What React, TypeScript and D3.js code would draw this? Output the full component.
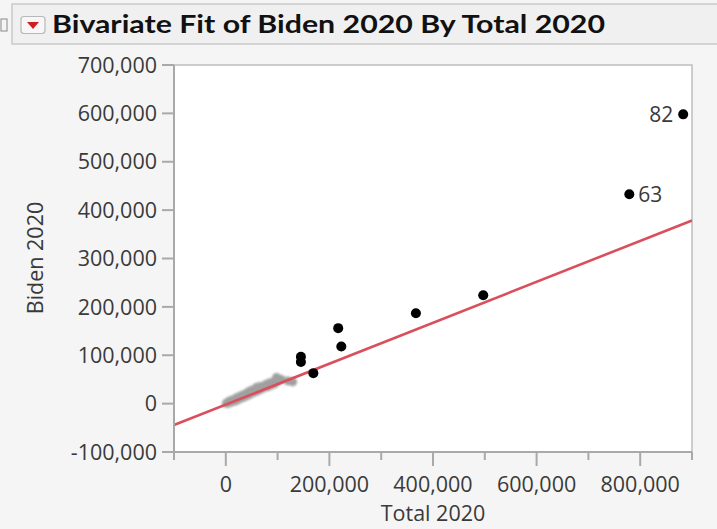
import React from "react";
import * as d3 from "d3";

// Axis ticks
const xTicks = [-100000, 0, 100000, 200000, 300000, 400000, 500000, 600000, 700000, 800000, 900000];
const xLabeled = [0, 200000, 400000, 600000, 800000];
const yTicks = [-100000, 0, 100000, 200000, 300000, 400000, 500000, 600000, 700000];

// Highlighted counties: Total 2020, Biden 2020 and row label
const mainTotals = [883000, 779000, 497000, 367000, 217000, 223000, 145000, 145000, 169000];
const mainBiden = [598000, 433000, 224000, 187000, 156000, 118000, 97000, 86000, 63000];
const mainLabels = ["82", "63", "", "", "", "", "", "", ""];

// Smaller counties (greyed rows)
const greyTotals = [
  1000, 3000, 5000, 6000, 8000, 9000, 11000, 13000, 14000, 16000, 18000, 19000, 21000, 23000,
  25000, 26000, 28000, 30000, 32000, 34000, 36000, 38000, 40000, 42000, 44000, 46000, 48000,
  50000, 52000, 54000, 57000, 59000, 61000, 64000, 66000, 69000, 72000, 75000, 78000, 81000,
  85000, 88000, 91000, 94000, 97000, 100000, 103000, 107000, 98000, 129000, 120000, 60000,
];
const greyBiden = [
  500, 2000, 1000, 4500, 2500, 6000, 3500, 7500, 4500, 6500, 9500, 6000, 12000, 8000,
  13500, 10000, 15000, 12000, 17500, 13000, 19000, 15500, 21500, 17000, 24000, 19000, 26500,
  22000, 28000, 23500, 31000, 25500, 33000, 28000, 35500, 30500, 36000, 33500, 40000, 35000,
  43000, 38500, 44000, 41000, 48000, 46000, 51000, 50000, 54000, 45000, 47000, 34000,
];

// Linear fit
const fitIntercept = -2000;
const fitSlope = 0.423;

const W = 717;
const H = 529;
const plot = { left: 174, right: 692, top: 65, bottom: 452 };
const tickFont = "'Open Sans', 'Noto Sans', sans-serif";
const textColor = "#3a3a3a";
const axisColor = "#a9a9a9";

export default function App() {
  const x = d3.scaleLinear().domain([-100000, 900000]).range([plot.left, plot.right]);
  const y = d3.scaleLinear().domain([-100000, 700000]).range([plot.bottom, plot.top]);
  const fmt = (v: number) => d3.format(",")(v).replace("\u2212", "-");
  const fitLine = d3
    .line<number>()
    .x((v) => x(v))
    .y((v) => y(fitIntercept + fitSlope * v));

  return (
    <svg
      width={W}
      height={H}
      style={{ position: "absolute", left: 0, top: 0, display: "block" }}
    >
      <defs>
        <clipPath id="plotClip">
          <rect x={plot.left} y={plot.top} width={plot.right - plot.left} height={plot.bottom - plot.top} />
        </clipPath>
        <filter id="soft" x="-20%" y="-20%" width="140%" height="140%">
          <feGaussianBlur stdDeviation="0.6" />
        </filter>
        <filter id="softer" x="-20%" y="-20%" width="140%" height="140%">
          <feGaussianBlur stdDeviation="1" />
        </filter>
      </defs>
      <rect x={0} y={0} width={W} height={H} fill="#f5f5f5" />

      {/* Title bar */}
      <rect x={1} y={19} width={6} height={12} fill="none" stroke="#9a9a9a" strokeWidth={1.2} />
      <rect x={12} y={4} width={W} height={40} fill="#f0f0f0" stroke="#c9c9c9" strokeWidth={1.5} />
      <rect x={21} y={16.5} width={24} height={17} rx={3} fill="#f7f7f7" stroke="#b8b8b8" strokeWidth={1.2} />
      <path d="M27,22 L39,22 L33,29 Z" fill="#d11f1f" />
      <text
        x={52}
        y={33}
        fontFamily="Lato, 'Open Sans', sans-serif"
        fontWeight={700}
        fontSize={25}
        fill="#111"
        textLength={553}
        lengthAdjust="spacingAndGlyphs"
      >
        Bivariate Fit of Biden 2020 By Total 2020
      </text>

      {/* Plot area */}
      <rect
        x={plot.left}
        y={plot.top}
        width={plot.right - plot.left}
        height={plot.bottom - plot.top}
        fill="#fff"
        stroke="#bdbdbd"
        strokeWidth={1.5}
      />

      {/* Points and fit */}
      <g clipPath="url(#plotClip)">
        <g filter="url(#softer)">
          {greyTotals.map((t, i) => (
            <circle key={"g" + i} cx={x(t)} cy={y(greyBiden[i])} r={4.5} fill="#a0a0a0" />
          ))}
        </g>
        <g filter="url(#soft)">
          <path d={fitLine([-100000, 900000]) ?? ""} stroke="#d9505c" strokeWidth={2.6} fill="none" />
          {mainTotals.map((t, i) => (
            <circle key={"m" + i} cx={x(t)} cy={y(mainBiden[i])} r={5} fill="#000" />
          ))}
        </g>
      </g>

      {/* Point labels */}
      {mainTotals.map((t, i) =>
        mainLabels[i] ? (
          <text
            key={"l" + i}
            x={i === 0 ? x(t) - 10 : x(t) + 9}
            y={y(mainBiden[i])}
            dy="0.36em"
            textAnchor={i === 0 ? "end" : "start"}
            fontFamily={tickFont}
            fontSize={21}
            fill={textColor}
          >
            {mainLabels[i]}
          </text>
        ) : null
      )}

      {/* Y axis */}
      <line x1={plot.left} x2={plot.left} y1={plot.top} y2={plot.bottom + 8} stroke={axisColor} strokeWidth={2} />
      {yTicks.map((v) => (
        <g key={"y" + v}>
          <line x1={plot.left - 12} x2={plot.left} y1={y(v)} y2={y(v)} stroke={axisColor} strokeWidth={2} />
          <text
            x={157}
            y={y(v)}
            dy="0.36em"
            textAnchor="end"
            fontFamily={tickFont}
            fontSize={21.5}
            fill={textColor}
          >
            {fmt(v)}
          </text>
        </g>
      ))}

      {/* X axis */}
      <line x1={plot.left} x2={plot.right} y1={plot.bottom} y2={plot.bottom} stroke={axisColor} strokeWidth={2} />
      {xTicks.map((v) => {
        const major = xLabeled.includes(v);
        return (
          <g key={"x" + v}>
            <line
              x1={x(v)}
              x2={x(v)}
              y1={plot.bottom}
              y2={plot.bottom + (major ? 14 : 8)}
              stroke={axisColor}
              strokeWidth={2}
            />
            {major && (
              <text
                x={x(v)}
                y={492}
                textAnchor="middle"
                fontFamily={tickFont}
                fontSize={21.5}
                fill={textColor}
              >
                {fmt(v)}
              </text>
            )}
          </g>
        );
      })}

      {/* Axis titles */}
      <text
        x={433}
        y={521}
        textAnchor="middle"
        fontFamily={tickFont}
        fontSize={21.5}
        fill={textColor}
      >
        Total 2020
      </text>
      <text
        transform={`translate(43, 258) rotate(-90)`}
        textAnchor="middle"
        fontFamily={tickFont}
        fontSize={21.5}
        fill={textColor}
      >
        Biden 2020
      </text>
    </svg>
  );
}
